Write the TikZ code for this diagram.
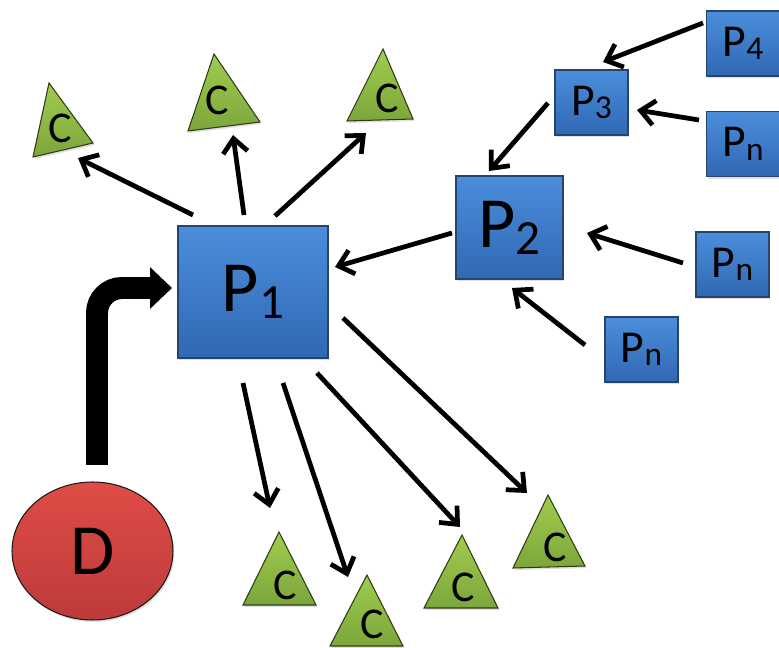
\documentclass[tikz,border=0pt]{standalone}
\usepackage{fontspec}
\setmainfont{Carlito}
\usetikzlibrary{arrows.meta,shapes.geometric,shadows}
\definecolor{bluetop}{HTML}{4B8EDC}
\definecolor{bluebot}{HTML}{3068B3}
\definecolor{boxline}{HTML}{25456E}
\definecolor{greentop}{HTML}{A0CC50}
\definecolor{greenbot}{HTML}{7CA63A}
\definecolor{greenline}{HTML}{2E3B14}
\definecolor{redtop}{HTML}{E04C46}
\definecolor{redbot}{HTML}{BC3B3A}
\newcommand{\bigP}[1]{\fontsize{41}{41}\selectfont P\raisebox{-4pt}{\fontsize{28}{28}\selectfont #1}}
\newcommand{\smallP}[1]{\fontsize{26}{26}\selectfont P\raisebox{-2pt}{\fontsize{19}{19}\selectfont #1}}
\begin{document}
\begin{tikzpicture}[x=0.02cm,y=-0.02cm,
  shd/.style={drop shadow={opacity=0.25,shadow xshift=0.8pt,shadow yshift=-1.2pt}},
  pbox/.style={draw=boxline, line width=0.6pt, top color=bluetop, bottom color=bluebot,
    inner sep=0pt, outer sep=0pt, shd},
  bigbox/.style={pbox, minimum width=3cm, minimum height=2.64cm},
  midbox/.style={pbox, minimum width=2.14cm, minimum height=2.06cm},
  smallbox/.style={pbox, minimum width=1.46cm, minimum height=1.30cm},
  tri/.style={draw=greenline, line width=0.6pt, top color=greentop, bottom color=greenbot, shd},
  clab/.style={inner sep=0pt, font=\fontsize{25}{25}\selectfont},
  arr/.style={line width=2.7pt, -{Straight Barb[length=8pt,width=14pt]}},
  bigarr/.style={line width=12.5pt, rounded corners=0.5cm, -{Triangle[length=12.5pt,width=23pt]}}
]
\useasboundingbox (0,0) rectangle (779,648);

% process boxes
\node[bigbox] (P1) at (253,292) {\bigP{1}};
\node[midbox] (P2) at (509.5,227.5) {\bigP{2}};
\node[smallbox] (P3) at (591.5,102.5) {\smallP{3}};
\node[smallbox] (P4) at (743,43.5) {\smallP{4}};
\node[smallbox] (Pa) at (743,144) {\smallP{n}};
\node[smallbox] (Pb) at (732.5,264.5) {\smallP{n}};
\node[smallbox] (Pc) at (641.5,349.5) {\smallP{n}};

% D
\node[ellipse, draw=black!90, line width=0.6pt, top color=redtop, bottom color=redbot,
  minimum width=3.22cm, minimum height=2.76cm, inner sep=0pt, shd] (D) at (92.5,551)
  {\fontsize{41}{41}\selectfont D};

% triangles
\path[tri] (49,83) -- (33,157) -- (93,143) -- cycle;
\node[clab] (T1) at (60,128) {C};
\path[tri] (214,54) -- (188,131) -- (260,122) -- cycle;
\node[clab] (T2) at (217,100) {C};
\path[tri] (383,49) -- (347,121) -- (413,119) -- cycle;
\node[clab] (T3) at (387,98) {C};
\path[tri] (279,532) -- (243,605) -- (316,605) -- cycle;
\node[clab] (T4) at (285,585) {C};
\path[tri] (367,575) -- (330,646) -- (403,646) -- cycle;
\node[clab] (T5) at (372,624) {C};
\path[tri] (462,535) -- (424,608) -- (498,608) -- cycle;
\node[clab] (T6) at (463,587) {C};
\path[tri] (548,495) -- (513,568) -- (585,566) -- cycle;
\node[clab] (T7) at (555,547) {C};

% connector end points
\coordinate (a1s) at (193,215); \coordinate (a1e) at (78,158);
\coordinate (a2s) at (244,215); \coordinate (a2e) at (233,135);
\coordinate (a3s) at (275,216); \coordinate (a3e) at (366,133);
\coordinate (a4s) at (452,233); \coordinate (a4e) at (335,267);
\coordinate (a5s) at (548,103); \coordinate (a5e) at (489,171);
\coordinate (a6s) at (703,23);  \coordinate (a6e) at (603,62);
\coordinate (a7s) at (699,120); \coordinate (a7e) at (637,110);
\coordinate (a8s) at (683,263); \coordinate (a8e) at (587,233);
\coordinate (a9s) at (585,345); \coordinate (a9e) at (512,288);
\coordinate (a10s) at (243,383); \coordinate (a10e) at (270,508);
\coordinate (a11s) at (283,383); \coordinate (a11e) at (348,577);
\coordinate (a12s) at (317,373); \coordinate (a12e) at (460,527);
\coordinate (a13s) at (343,318); \coordinate (a13e) at (527,493);
\coordinate (ds) at (97,465); \coordinate (de) at (172,288);

% connectors
\draw[arr] (a1s) -- (a1e);
\draw[arr] (a2s) -- (a2e);
\draw[arr] (a3s) -- (a3e);
\draw[arr] (a4s) -- (a4e);
\draw[arr] (a5s) -- (a5e);
\draw[arr] (a6s) -- (a6e);
\draw[arr] (a7s) -- (a7e);
\draw[arr] (a8s) -- (a8e);
\draw[arr] (a9s) -- (a9e);
\draw[arr] (a10s) -- (a10e);
\draw[arr] (a11s) -- (a11e);
\draw[arr] (a12s) -- (a12e);
\draw[arr] (a13s) -- (a13e);
\draw[bigarr] (ds) |- (de);
\end{tikzpicture}
\end{document}
